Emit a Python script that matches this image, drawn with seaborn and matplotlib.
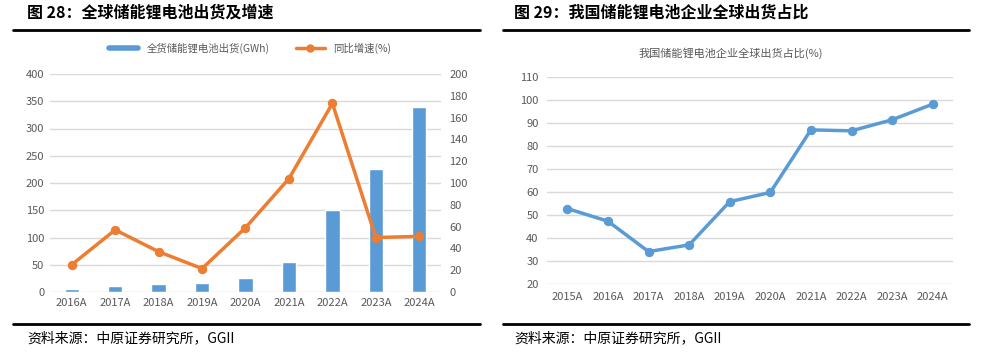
import matplotlib
matplotlib.use("Agg")
import matplotlib.pyplot as plt
import seaborn as sns
import pandas as pd
from matplotlib.lines import Line2D

sns.set_theme(style="white")
plt.rcParams['font.family'] = ['Noto Sans CJK SC', 'DejaVu Sans']

# ---- data ----
years_left = ["2016A", "2017A", "2018A", "2019A", "2020A", "2021A", "2022A", "2023A", "2024A"]
shipments = [6, 10.5, 14, 16.5, 26.5, 55, 151, 225, 340]          # GWh
growth = [25, 57, 37, 21.5, 59, 104, 173, 50, 51]                  # %

years_right = ["2015A", "2016A", "2017A", "2018A", "2019A", "2020A", "2021A", "2022A", "2023A", "2024A"]
share = [52.8, 47.3, 34.1, 37, 55.8, 59.8, 87, 86.6, 91.4, 98.2]  # %

left_ticks = list(range(0, 401, 50))
right_ticks = list(range(0, 201, 20))
share_ticks = list(range(20, 111, 10))

BLUE = "#5B9BD5"
ORANGE = "#ED7D31"
GRID = "#D9D9D9"
TXT = "#595959"

W, H = 983, 353
fig = plt.figure(figsize=(W / 100, H / 100), dpi=100)

def fx(px):
    return px / W

def fy(py):
    return 1 - py / H

# ---- headers and footers ----
fig.text(fx(27), fy(13), "图 28：全球储能锂电池出货及增速", fontsize=11.5, fontweight="bold",
         va="center", ha="left", color="black")
fig.text(fx(514), fy(13), "图 29：我国储能锂电池企业全球出货占比", fontsize=11.5, fontweight="bold",
         va="center", ha="left", color="black")
for x0, x1 in [(13, 480), (503, 969)]:
    fig.add_artist(Line2D([fx(x0), fx(x1)], [fy(29.5), fy(29.5)], color="black", lw=2))
    fig.add_artist(Line2D([fx(x0), fx(x1)], [fy(323.5), fy(323.5)], color="black", lw=2))
fig.text(fx(27), fy(338), "资料来源：中原证券研究所，GGII", fontsize=10, va="center", ha="left", color="black")
fig.text(fx(514), fy(338), "资料来源：中原证券研究所，GGII", fontsize=10, va="center", ha="left", color="black")

# ---- left chart ----
ax = fig.add_axes([fx(50), fy(292), fx(441 - 50), (292 - 74) / H])
df_l = pd.DataFrame({"year": years_left, "ship": shipments, "growth": growth,
                     "pos": range(len(years_left))})
sns.barplot(data=df_l, x="year", y="ship", ax=ax, color=BLUE, width=0.33, saturation=1)
ax.set_ylim(0, 400)
ax.set_yticks(left_ticks)
ax.set_xlim(-0.5, len(years_left) - 0.5)
ax.yaxis.grid(True, color=GRID, lw=1)
ax.set_axisbelow(True)
ax.set_xlabel("")
ax.set_ylabel("")
for s in ax.spines.values():
    s.set_visible(False)
ax.tick_params(axis="both", length=0, labelsize=8, colors=TXT, pad=4)

ax2 = ax.twinx()
sns.lineplot(data=df_l, x="pos", y="growth", ax=ax2, color=ORANGE, lw=2.5,
             marker="o", markersize=6, markeredgecolor=ORANGE, sort=False)
ax2.set_ylim(0, 200)
ax2.set_yticks(right_ticks)
ax2.set_xlim(-0.5, len(years_left) - 0.5)
ax2.set_xlabel("")
ax2.set_ylabel("")
for s in ax2.spines.values():
    s.set_visible(False)
ax2.tick_params(axis="both", length=0, labelsize=8, colors=TXT, pad=6)

handles = [Line2D([0], [0], color=BLUE, lw=4),
           Line2D([0], [0], color=ORANGE, lw=2.5, marker="o", markersize=5)]
fig.legend(handles, ["全货储能锂电池出货(GWh)", "同比增速(%)"], loc="center",
           bbox_to_anchor=(fx(250), fy(48)), ncol=2, frameon=False, fontsize=7.5,
           labelcolor=TXT, handlelength=2.8, columnspacing=2.5)

# ---- right chart ----
bx = fig.add_axes([fx(547), fy(284), fx(953 - 547), (284 - 77) / H])
df_r = pd.DataFrame({"year": years_right, "share": share})
sns.lineplot(data=df_r, x="year", y="share", ax=bx, color=BLUE, lw=2.5, marker="o",
             markersize=6, markeredgecolor=BLUE, sort=False)
bx.set_ylim(20, 110)
bx.set_yticks(share_ticks)
bx.set_xlim(-0.5, len(years_right) - 0.5)
bx.yaxis.grid(True, color=GRID, lw=1)
bx.set_axisbelow(True)
bx.set_xlabel("")
bx.set_ylabel("")
for s in bx.spines.values():
    s.set_visible(False)
bx.tick_params(axis="both", length=0, labelsize=8, colors=TXT, pad=6)
fig.text(fx(731), fy(53), "我国储能锂电池企业全球出货占比(%)", fontsize=8, color=TXT,
         ha="center", va="center")

fig.savefig("out.png", dpi=100)
